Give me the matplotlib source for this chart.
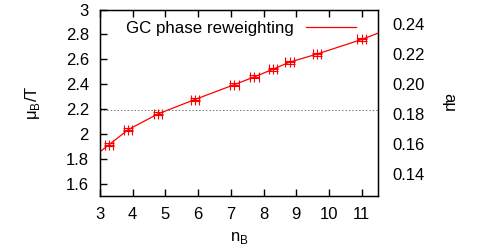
import matplotlib.pyplot as plt
import numpy as np

plt.rcParams['font.family'] = ['Liberation Sans', 'DejaVu Sans']

# Data points
n_B = [3.28, 3.86, 4.77, 5.90, 7.11, 7.72, 8.29, 8.80, 9.64, 11.00]
mu_T = [1.913, 2.033, 2.16, 2.276, 2.396, 2.458, 2.52, 2.577, 2.642, 2.759]
n_err = [0.13, 0.13, 0.13, 0.13, 0.13, 0.13, 0.13, 0.13, 0.13, 0.13]
mu_err = [0.012, 0.012, 0.012, 0.012, 0.012, 0.012, 0.012, 0.012, 0.012, 0.012]

# Fitted curve
curve_n = [3.0, 3.28, 3.86, 4.77, 5.90, 7.11, 7.72, 8.29, 8.80, 9.64, 11.00, 11.5]
curve_mu = [1.856, 1.913, 2.033, 2.16, 2.276, 2.396, 2.458, 2.52, 2.577, 2.642, 2.759, 2.81]

mu_crit = 2.19
ratio = 12.0  # right axis = left axis / ratio

fig = plt.figure(figsize=(4.84, 2.49), dpi=100)
ax = fig.add_axes([0.2066, 0.2129, 0.5744, 0.7489])

ax.plot(curve_n, curve_mu, color='#ff0000', lw=0.9, label='GC phase reweighting')
ax.errorbar(n_B, mu_T, xerr=n_err, yerr=mu_err, fmt='+', color='#ff0000',
            ms=7, mew=0.8, elinewidth=0.8, capsize=3.5, capthick=0.8)
ax.axhline(mu_crit, color='#777777', lw=0.7, ls=(0, (1.5, 2)))

ax.set_xlim(3, 11.5)
ax.set_ylim(1.5, 3.0)
ax.set_xticks(np.arange(3, 12))
ax.set_yticks([1.6, 1.8, 2.0, 2.2, 2.4, 2.6, 2.8, 3.0])
ax.set_yticklabels(['1.6', '1.8', '2', '2.2', '2.4', '2.6', '2.8', '3'])
ax.tick_params(direction='in', top=True, right=True, length=5, width=1,
               labelsize=12, pad=8)
for s in ax.spines.values():
    s.set_linewidth(1.0)

ax.set_xlabel('n$_\\mathregular{B}$', fontsize=12, labelpad=6)
ax.set_ylabel('μ$_\\mathregular{B}$/T', fontsize=12, labelpad=17)

ax.legend(loc='upper right', bbox_to_anchor=(0.964, 1.0), frameon=False,
          fontsize=12.2, handlelength=2.95, borderaxespad=0.3,
          handletextpad=0.75, markerfirst=False)

ax2 = ax.twinx()
ax2.set_ylim(1.5 / ratio, 3.0 / ratio)
ax2.set_yticks([0.14, 0.16, 0.18, 0.20, 0.22, 0.24])
ax2.set_yticklabels(['0.14', '0.16', '0.18', '0.20', '0.22', '0.24'])
ax2.tick_params(length=0, labelsize=12, pad=10)
ax2.set_ylabel('aμ', fontsize=12, rotation=-90, labelpad=23)

fig.savefig('out.png', dpi=100)
